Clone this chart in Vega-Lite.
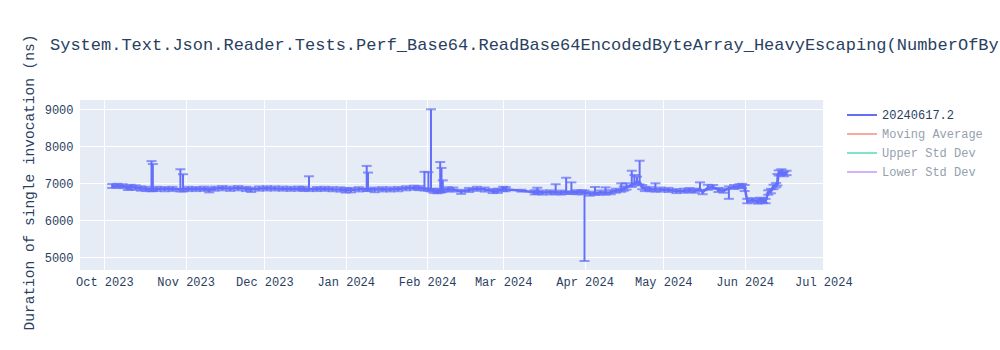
{
  "$schema": "https://vega.github.io/schema/vega-lite/v6.json",
  "width": 744,
  "height": 170,
  "autosize": {"type": "none"},
  "padding": {"left": 80, "top": 100, "right": 176, "bottom": 80},
  "background": "white",
  "title": {
    "text": "System.Text.Json.Reader.Tests.Perf_Base64.ReadBase64EncodedByteArray_HeavyEscaping(NumberOfBytes: 1000)",
    "anchor": "start",
    "frame": "group",
    "dx": -30,
    "offset": -20,
    "font": "Liberation Mono",
    "fontSize": 17,
    "fontWeight": "normal",
    "color": "#2a3f5f"
  },
  "config": {
    "view": {"stroke": null, "fill": "#E5ECF6"},
    "font": "Liberation Mono"
  },
  "data": {
    "values": [
      {"date": "2023-10-04T00:00:00Z", "value": 6930, "lo": 6875, "hi": 6980},
      {"date": "2023-10-06T00:00:00Z", "value": 6935, "lo": 6880, "hi": 6985},
      {"date": "2023-10-08T00:00:00Z", "value": 6925, "lo": 6870, "hi": 6975},
      {"date": "2023-10-10T00:00:00Z", "value": 6880, "lo": 6820, "hi": 6935},
      {"date": "2023-10-11T00:00:00Z", "value": 6900, "lo": 6835, "hi": 6960},
      {"date": "2023-10-13T00:00:00Z", "value": 6885, "lo": 6825, "hi": 6945},
      {"date": "2023-10-15T00:00:00Z", "value": 6860, "lo": 6800, "hi": 6915},
      {"date": "2023-10-17T00:00:00Z", "value": 6850, "lo": 6790, "hi": 6905},
      {"date": "2023-10-19T00:00:00Z", "value": 6845, "lo": 6785, "hi": 7600},
      {"date": "2023-10-19T12:00:00Z", "value": 6850, "lo": 6790, "hi": 7520},
      {"date": "2023-10-21T00:00:00Z", "value": 6850, "lo": 6795, "hi": 6905},
      {"date": "2023-10-24T00:00:00Z", "value": 6845, "lo": 6785, "hi": 6900},
      {"date": "2023-10-27T00:00:00Z", "value": 6850, "lo": 6790, "hi": 6905},
      {"date": "2023-10-30T00:00:00Z", "value": 6840, "lo": 6780, "hi": 7380},
      {"date": "2023-10-31T00:00:00Z", "value": 6845, "lo": 6780, "hi": 7245},
      {"date": "2023-11-02T00:00:00Z", "value": 6850, "lo": 6790, "hi": 6905},
      {"date": "2023-11-05T00:00:00Z", "value": 6845, "lo": 6790, "hi": 6900},
      {"date": "2023-11-08T00:00:00Z", "value": 6855, "lo": 6795, "hi": 6910},
      {"date": "2023-11-10T00:00:00Z", "value": 6820, "lo": 6755, "hi": 6875},
      {"date": "2023-11-12T00:00:00Z", "value": 6855, "lo": 6800, "hi": 6910},
      {"date": "2023-11-15T00:00:00Z", "value": 6870, "lo": 6810, "hi": 6925},
      {"date": "2023-11-18T00:00:00Z", "value": 6855, "lo": 6795, "hi": 6910},
      {"date": "2023-11-21T00:00:00Z", "value": 6870, "lo": 6810, "hi": 6925},
      {"date": "2023-11-24T00:00:00Z", "value": 6850, "lo": 6790, "hi": 6905},
      {"date": "2023-11-26T00:00:00Z", "value": 6830, "lo": 6765, "hi": 6885},
      {"date": "2023-11-29T00:00:00Z", "value": 6860, "lo": 6800, "hi": 6915},
      {"date": "2023-12-02T00:00:00Z", "value": 6865, "lo": 6805, "hi": 6920},
      {"date": "2023-12-05T00:00:00Z", "value": 6860, "lo": 6805, "hi": 6915},
      {"date": "2023-12-08T00:00:00Z", "value": 6855, "lo": 6800, "hi": 6910},
      {"date": "2023-12-11T00:00:00Z", "value": 6850, "lo": 6795, "hi": 6905},
      {"date": "2023-12-14T00:00:00Z", "value": 6855, "lo": 6800, "hi": 6910},
      {"date": "2023-12-16T00:00:00Z", "value": 6850, "lo": 6795, "hi": 6905},
      {"date": "2023-12-18T00:00:00Z", "value": 6845, "lo": 6790, "hi": 7190},
      {"date": "2023-12-21T00:00:00Z", "value": 6845, "lo": 6790, "hi": 6900},
      {"date": "2023-12-24T00:00:00Z", "value": 6850, "lo": 6795, "hi": 6905},
      {"date": "2023-12-27T00:00:00Z", "value": 6840, "lo": 6785, "hi": 6895},
      {"date": "2023-12-30T00:00:00Z", "value": 6835, "lo": 6775, "hi": 6890},
      {"date": "2024-01-01T00:00:00Z", "value": 6815, "lo": 6750, "hi": 6870},
      {"date": "2024-01-03T00:00:00Z", "value": 6820, "lo": 6755, "hi": 6875},
      {"date": "2024-01-06T00:00:00Z", "value": 6840, "lo": 6780, "hi": 6895},
      {"date": "2024-01-09T00:00:00Z", "value": 6850, "lo": 6790, "hi": 7470},
      {"date": "2024-01-09T12:00:00Z", "value": 6850, "lo": 6795, "hi": 7290},
      {"date": "2024-01-12T00:00:00Z", "value": 6830, "lo": 6760, "hi": 6885},
      {"date": "2024-01-15T00:00:00Z", "value": 6840, "lo": 6780, "hi": 6895},
      {"date": "2024-01-18T00:00:00Z", "value": 6835, "lo": 6780, "hi": 6890},
      {"date": "2024-01-21T00:00:00Z", "value": 6845, "lo": 6785, "hi": 6900},
      {"date": "2024-01-24T00:00:00Z", "value": 6865, "lo": 6810, "hi": 6920},
      {"date": "2024-01-27T00:00:00Z", "value": 6880, "lo": 6825, "hi": 6935},
      {"date": "2024-01-29T00:00:00Z", "value": 6870, "lo": 6815, "hi": 6925},
      {"date": "2024-01-31T00:00:00Z", "value": 6860, "lo": 6805, "hi": 7310},
      {"date": "2024-02-01T12:00:00Z", "value": 6850, "lo": 6795, "hi": 7300},
      {"date": "2024-02-02T12:00:00Z", "value": 6840, "lo": 6780, "hi": 9000},
      {"date": "2024-02-03T12:00:00Z", "value": 6800, "lo": 6740, "hi": 6855},
      {"date": "2024-02-05T00:00:00Z", "value": 6790, "lo": 6730, "hi": 6845},
      {"date": "2024-02-06T00:00:00Z", "value": 6810, "lo": 6750, "hi": 7575},
      {"date": "2024-02-06T12:00:00Z", "value": 6820, "lo": 6760, "hi": 7415},
      {"date": "2024-02-07T00:00:00Z", "value": 6830, "lo": 6770, "hi": 7080},
      {"date": "2024-02-09T00:00:00Z", "value": 6840, "lo": 6785, "hi": 6895},
      {"date": "2024-02-11T00:00:00Z", "value": 6830, "lo": 6775, "hi": 6885},
      {"date": "2024-02-14T00:00:00Z", "value": 6770, "lo": 6715, "hi": 6825},
      {"date": "2024-02-17T00:00:00Z", "value": 6820, "lo": 6765, "hi": 6875},
      {"date": "2024-02-20T00:00:00Z", "value": 6850, "lo": 6795, "hi": 6905},
      {"date": "2024-02-23T00:00:00Z", "value": 6830, "lo": 6775, "hi": 6885},
      {"date": "2024-02-26T00:00:00Z", "value": 6790, "lo": 6735, "hi": 6845},
      {"date": "2024-02-28T00:00:00Z", "value": 6800, "lo": 6740, "hi": 6855},
      {"date": "2024-03-01T00:00:00Z", "value": 6850, "lo": 6790, "hi": 6905},
      {"date": "2024-03-02T00:00:00Z", "value": 6840, "lo": 6785, "hi": 6895},
      {"date": "2024-03-08T00:00:00Z", "value": 6800, "lo": 6775, "hi": 6825},
      {"date": "2024-03-13T00:00:00Z", "value": 6760, "lo": 6700, "hi": 6815},
      {"date": "2024-03-14T00:00:00Z", "value": 6770, "lo": 6710, "hi": 6880},
      {"date": "2024-03-16T00:00:00Z", "value": 6750, "lo": 6695, "hi": 6805},
      {"date": "2024-03-19T00:00:00Z", "value": 6755, "lo": 6700, "hi": 6810},
      {"date": "2024-03-21T00:00:00Z", "value": 6760, "lo": 6705, "hi": 6975},
      {"date": "2024-03-23T00:00:00Z", "value": 6750, "lo": 6695, "hi": 6805},
      {"date": "2024-03-25T00:00:00Z", "value": 6770, "lo": 6710, "hi": 7150},
      {"date": "2024-03-27T00:00:00Z", "value": 6770, "lo": 6710, "hi": 7025},
      {"date": "2024-03-29T00:00:00Z", "value": 6760, "lo": 6705, "hi": 6815},
      {"date": "2024-03-31T00:00:00Z", "value": 6755, "lo": 6700, "hi": 6810},
      {"date": "2024-04-01T00:00:00Z", "value": 6750, "lo": 4900, "hi": 6805},
      {"date": "2024-04-03T00:00:00Z", "value": 6720, "lo": 6665, "hi": 6775},
      {"date": "2024-04-05T00:00:00Z", "value": 6740, "lo": 6685, "hi": 6900},
      {"date": "2024-04-07T00:00:00Z", "value": 6750, "lo": 6695, "hi": 6805},
      {"date": "2024-04-09T00:00:00Z", "value": 6750, "lo": 6695, "hi": 6890},
      {"date": "2024-04-11T00:00:00Z", "value": 6760, "lo": 6705, "hi": 6815},
      {"date": "2024-04-13T00:00:00Z", "value": 6800, "lo": 6745, "hi": 6855},
      {"date": "2024-04-15T00:00:00Z", "value": 6830, "lo": 6770, "hi": 7000},
      {"date": "2024-04-16T00:00:00Z", "value": 6860, "lo": 6800, "hi": 6915},
      {"date": "2024-04-17T00:00:00Z", "value": 6890, "lo": 6830, "hi": 7000},
      {"date": "2024-04-19T00:00:00Z", "value": 6960, "lo": 6900, "hi": 7340},
      {"date": "2024-04-20T00:00:00Z", "value": 7000, "lo": 6940, "hi": 7225},
      {"date": "2024-04-21T00:00:00Z", "value": 7050, "lo": 6990, "hi": 7180},
      {"date": "2024-04-22T00:00:00Z", "value": 7030, "lo": 6970, "hi": 7610},
      {"date": "2024-04-23T00:00:00Z", "value": 6900, "lo": 6840, "hi": 6955},
      {"date": "2024-04-24T00:00:00Z", "value": 6850, "lo": 6790, "hi": 6905},
      {"date": "2024-04-26T00:00:00Z", "value": 6840, "lo": 6785, "hi": 6895},
      {"date": "2024-04-28T00:00:00Z", "value": 6830, "lo": 6775, "hi": 7000},
      {"date": "2024-04-30T00:00:00Z", "value": 6830, "lo": 6775, "hi": 6885},
      {"date": "2024-05-03T00:00:00Z", "value": 6820, "lo": 6765, "hi": 6875},
      {"date": "2024-05-06T00:00:00Z", "value": 6790, "lo": 6735, "hi": 6845},
      {"date": "2024-05-09T00:00:00Z", "value": 6800, "lo": 6745, "hi": 6855},
      {"date": "2024-05-11T00:00:00Z", "value": 6815, "lo": 6760, "hi": 6870},
      {"date": "2024-05-13T00:00:00Z", "value": 6800, "lo": 6745, "hi": 6855},
      {"date": "2024-05-15T00:00:00Z", "value": 6850, "lo": 6790, "hi": 7025},
      {"date": "2024-05-16T00:00:00Z", "value": 6760, "lo": 6705, "hi": 6815},
      {"date": "2024-05-18T00:00:00Z", "value": 6880, "lo": 6825, "hi": 6960},
      {"date": "2024-05-20T00:00:00Z", "value": 6900, "lo": 6845, "hi": 6955},
      {"date": "2024-05-22T00:00:00Z", "value": 6820, "lo": 6765, "hi": 6875},
      {"date": "2024-05-24T00:00:00Z", "value": 6800, "lo": 6745, "hi": 6855},
      {"date": "2024-05-26T00:00:00Z", "value": 6860, "lo": 6580, "hi": 6915},
      {"date": "2024-05-28T00:00:00Z", "value": 6900, "lo": 6845, "hi": 6955},
      {"date": "2024-05-30T00:00:00Z", "value": 6920, "lo": 6865, "hi": 6975},
      {"date": "2024-05-31T00:00:00Z", "value": 6930, "lo": 6875, "hi": 6985},
      {"date": "2024-06-01T00:00:00Z", "value": 6900, "lo": 6790, "hi": 6955},
      {"date": "2024-06-02T00:00:00Z", "value": 6520, "lo": 6460, "hi": 6580},
      {"date": "2024-06-04T00:00:00Z", "value": 6540, "lo": 6480, "hi": 6600},
      {"date": "2024-06-06T00:00:00Z", "value": 6510, "lo": 6450, "hi": 6570},
      {"date": "2024-06-07T00:00:00Z", "value": 6550, "lo": 6490, "hi": 6610},
      {"date": "2024-06-08T00:00:00Z", "value": 6530, "lo": 6470, "hi": 6590},
      {"date": "2024-06-09T00:00:00Z", "value": 6520, "lo": 6460, "hi": 6580},
      {"date": "2024-06-10T00:00:00Z", "value": 6750, "lo": 6690, "hi": 6810},
      {"date": "2024-06-11T00:00:00Z", "value": 6790, "lo": 6730, "hi": 6850},
      {"date": "2024-06-12T00:00:00Z", "value": 6900, "lo": 6840, "hi": 6960},
      {"date": "2024-06-13T00:00:00Z", "value": 6950, "lo": 6890, "hi": 7010},
      {"date": "2024-06-13T12:00:00Z", "value": 7000, "lo": 6940, "hi": 7250},
      {"date": "2024-06-14T00:00:00Z", "value": 7280, "lo": 7210, "hi": 7350},
      {"date": "2024-06-15T00:00:00Z", "value": 7300, "lo": 7230, "hi": 7380},
      {"date": "2024-06-16T00:00:00Z", "value": 7250, "lo": 7190, "hi": 7310},
      {"date": "2024-06-17T00:00:00Z", "value": 7280, "lo": 7220, "hi": 7340}
    ]
  },
  "layer": [
    {
      "mark": {"type": "errorbar", "ticks": {"size": 10, "thickness": 2}, "thickness": 2, "color": "#636efa"},
      "encoding": {
        "x": {
          "field": "date",
          "type": "temporal",
          "scale": {
            "type": "utc",
            "domain": [
              {"year": 2023, "month": 9, "date": 21, "hours": 18, "utc": true},
              {"year": 2024, "month": 7, "date": 1, "hours": 6, "utc": true}
            ]
          },
          "axis": {
            "title": null,
            "format": "%b %Y",
            "tickCount": {"interval": "month", "step": 1},
            "grid": true,
            "gridColor": "white",
            "gridWidth": 1,
            "domain": false,
            "ticks": false,
            "labelPadding": 6,
            "labelFont": "Liberation Mono",
            "labelFontSize": 12,
            "labelColor": "#2a3f5f",
            "labelFlush": false,
            "labelOverlap": false
          }
        },
        "y": {
          "field": "lo",
          "type": "quantitative",
          "scale": {"domain": [4657, 9251], "nice": false, "zero": false},
          "axis": {
            "title": "Duration of single invocation (ns)",
            "values": [5000, 6000, 7000, 8000, 9000],
            "format": "d",
            "grid": true,
            "gridColor": "white",
            "gridWidth": 1,
            "domain": false,
            "ticks": false,
            "labelPadding": 7,
            "labelFont": "Liberation Mono",
            "labelFontSize": 12,
            "labelColor": "#2a3f5f",
            "titleFont": "Liberation Mono",
            "titleFontSize": 14.5,
            "titleFontWeight": "normal",
            "titleColor": "#2a3f5f",
            "titleX": -51,
            "titleY": 82,
            "titleAngle": -90,
            "titleAlign": "center",
            "titleBaseline": "middle"
          }
        },
        "y2": {"field": "hi"}
      }
    },
    {
      "mark": {"type": "line", "strokeWidth": 2.5},
      "encoding": {
        "x": {"field": "date", "type": "temporal"},
        "y": {"field": "value", "type": "quantitative"},
        "color": {
          "datum": "20240617.2",
          "type": "nominal",
          "scale": {
            "domain": ["20240617.2", "Moving Average", "Upper Std Dev", "Lower Std Dev"],
            "range": ["#636efa", "#f7aa9d", "#7fe5ca", "#d5b1fc"]
          },
          "legend": {
            "title": null,
            "orient": "none",
            "legendX": 766,
            "legendY": 9,
            "padding": 0,
            "symbolType": "M-1,0H5",
            "symbolSize": 100,
            "symbolStrokeWidth": 2,
            "symbolOffset": 0,
            "labelOffset": 24,
            "labelFont": "Liberation Mono",
            "labelFontSize": 12,
            "rowPadding": 7,
            "encode": {
              "labels": {
                "update": {
                  "fill": {"signal": "datum.label === '20240617.2' ? '#2a3f5f' : '#969fae'"}
                }
              }
            }
          }
        }
      }
    }
  ]
}
